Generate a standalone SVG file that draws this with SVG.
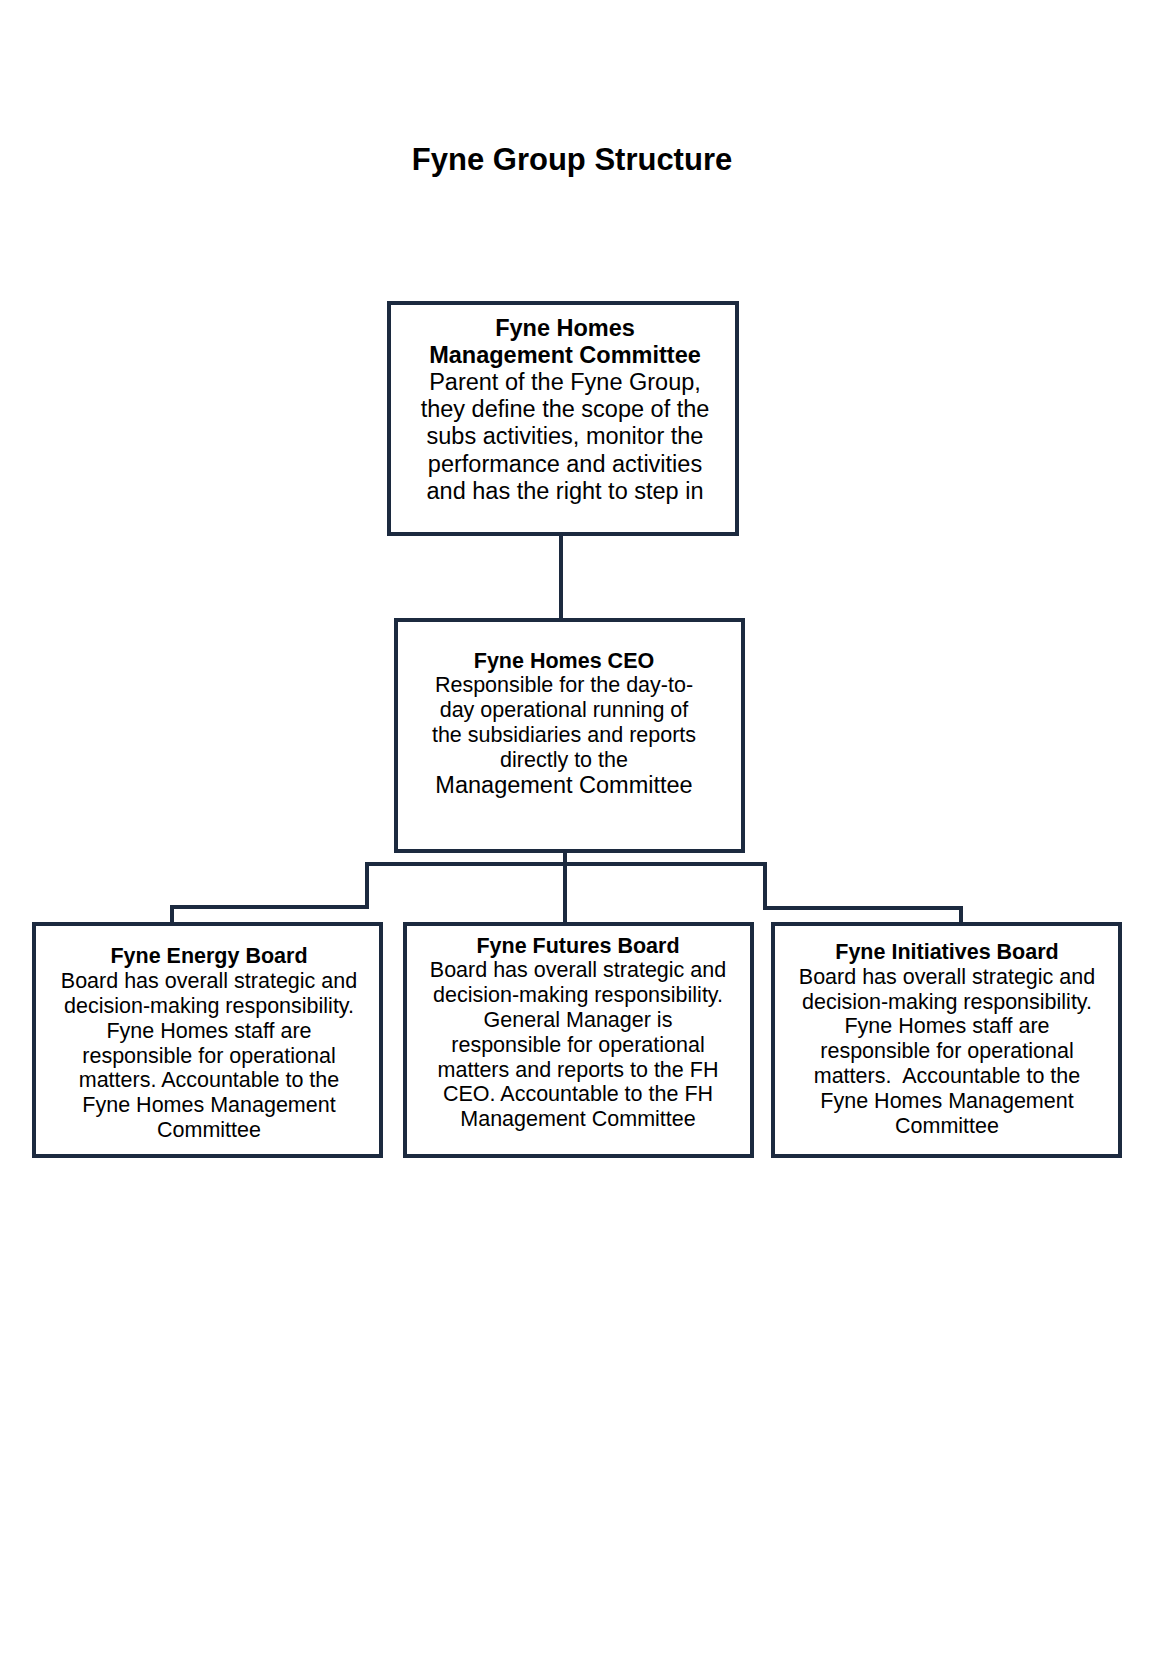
<svg xmlns="http://www.w3.org/2000/svg" width="1170" height="1654" viewBox="0 0 1170 1654">
<style>
.box{fill:#ffffff;stroke:#1c2a3f;stroke-width:4}
.con{fill:none;stroke:#1c2a3f;stroke-width:4;stroke-linejoin:miter}
text{font-family:"Liberation Sans",Arial,sans-serif;fill:#000000;text-anchor:middle}
.b{font-weight:bold}
.t1{font-size:23.5px}
.t2{font-size:21.5px}
.title{font-size:31px;font-weight:bold}
</style>
<rect width="1170" height="1654" fill="#ffffff"/>
<text class="title" x="572" y="170">Fyne Group Structure</text>
<g id="connectors">
<line class="con" x1="561" y1="534" x2="561" y2="619"/>
<line class="con" x1="565" y1="851" x2="565" y2="924"/>
<polyline class="con" points="565,864 367,864 367,907 172,907 172,924"/>
<polyline class="con" points="565,864 765,864 765,908 961,908 961,924"/>
</g>
<g id="node-fhmc">
<rect class="box" x="389" y="303" width="348" height="231"/>
<text class="t1 b" x="565" y="336">Fyne Homes</text>
<text class="t1 b" x="565" y="363">Management Committee</text>
<text class="t1" x="565" y="390">Parent of the Fyne Group,</text>
<text class="t1" x="565" y="417">they define the scope of the</text>
<text class="t1" x="565" y="444">subs activities, monitor the</text>
<text class="t1" x="565" y="472">performance and activities</text>
<text class="t1" x="565" y="499">and has the right to step in</text>
</g>
<g id="node-ceo">
<rect class="box" x="396" y="620" width="347" height="231"/>
<text class="t2 b" x="564" y="668">Fyne Homes CEO</text>
<text class="t2" x="564" y="692">Responsible for the day-to-</text>
<text class="t2" x="564" y="717">day operational running of</text>
<text class="t2" x="564" y="742">the subsidiaries and reports</text>
<text class="t2" x="564" y="767">directly to the</text>
<text class="t1" x="564" y="793">Management Committee</text>
</g>
<g id="node-energy">
<rect class="box" x="34" y="924" width="347" height="232"/>
<text class="t2 b" x="209" y="963">Fyne Energy Board</text>
<text class="t2" x="209" y="988">Board has overall strategic and</text>
<text class="t2" x="209" y="1013">decision-making responsibility.</text>
<text class="t2" x="209" y="1038">Fyne Homes staff are</text>
<text class="t2" x="209" y="1063">responsible for operational</text>
<text class="t2" x="209" y="1087">matters. Accountable to the</text>
<text class="t2" x="209" y="1112">Fyne Homes Management</text>
<text class="t2" x="209" y="1137">Committee</text>
</g>
<g id="node-futures">
<rect class="box" x="405" y="924" width="347" height="232"/>
<text class="t2 b" x="578" y="953">Fyne Futures Board</text>
<text class="t2" x="578" y="977">Board has overall strategic and</text>
<text class="t2" x="578" y="1002">decision-making responsibility.</text>
<text class="t2" x="578" y="1027">General Manager is</text>
<text class="t2" x="578" y="1052">responsible for operational</text>
<text class="t2" x="578" y="1077">matters and reports to the FH</text>
<text class="t2" x="578" y="1101">CEO. Accountable to the FH</text>
<text class="t2" x="578" y="1126">Management Committee</text>
</g>
<g id="node-initiatives">
<rect class="box" x="773" y="924" width="347" height="232"/>
<text class="t2 b" x="947" y="959">Fyne Initiatives Board</text>
<text class="t2" x="947" y="984">Board has overall strategic and</text>
<text class="t2" x="947" y="1009">decision-making responsibility.</text>
<text class="t2" x="947" y="1033">Fyne Homes staff are</text>
<text class="t2" x="947" y="1058">responsible for operational</text>
<text class="t2" x="947" y="1083">matters.&#160; Accountable to the</text>
<text class="t2" x="947" y="1108">Fyne Homes Management</text>
<text class="t2" x="947" y="1133">Committee</text>
</g>
</svg>
